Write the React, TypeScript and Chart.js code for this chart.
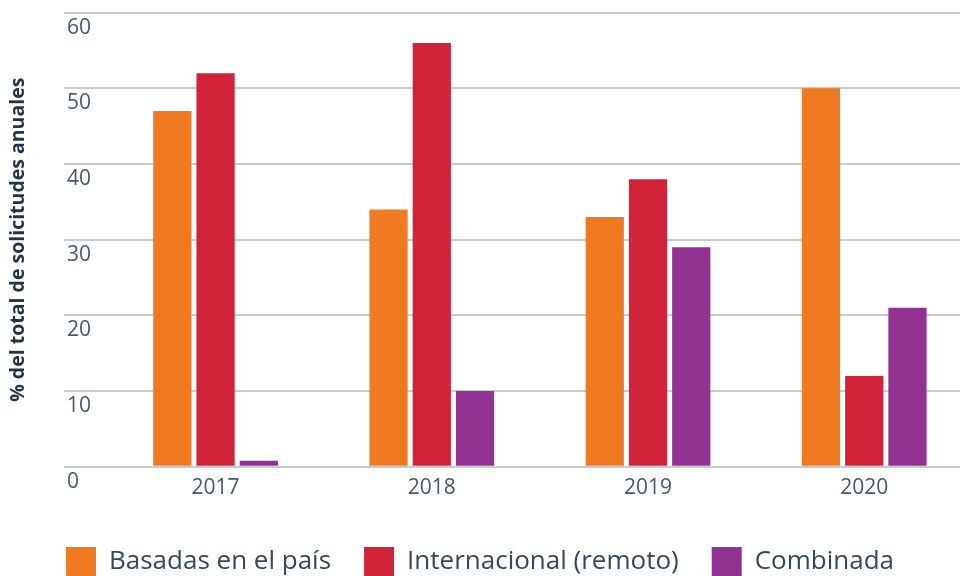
import React, { useEffect, useRef } from 'react';
import { Chart, registerables } from 'chart.js';

Chart.register(...registerables);

const years = [2017, 2018, 2019, 2020];
const basadas = [47, 34, 33, 50];
const internacional = [52, 56, 38, 12];
const combinada = [0.8, 10, 29, 21];
const yTicks = [0, 10, 20, 30, 40, 50, 60];
const seriesLabels = ['Basadas en el país', 'Internacional (remoto)', 'Combinada'];
const seriesColors = ['#F07A22', '#D0233A', '#923291'];
const yTitle = '% del total de solicitudes anuales';

const FONT = "'Open Sans', 'Noto Sans', sans-serif";

export default function App() {
  const ref = useRef<HTMLCanvasElement | null>(null);

  useEffect(() => {
    if (!ref.current) return;
    const seriesValues = [basadas, internacional, combinada];
    const chart = new Chart(ref.current, {
      type: 'bar',
      data: {
        datasets: seriesValues.map((vals, i) => ({
          label: seriesLabels[i],
          data: years.map((y, j) => ({ x: y, y: vals[j] })),
          backgroundColor: seriesColors[i],
          borderWidth: 0,
          categoryPercentage: 0.6,
          barPercentage: 0.884,
        })),
      },
      options: {
        responsive: false,
        animation: false,
        layout: { padding: { top: 12.7, left: 0, right: 0, bottom: 0 } },
        plugins: {
          legend: {
            position: 'bottom',
            labels: {
              boxWidth: 30,
              boxHeight: 30,
              padding: 33,
              color: '#34495a',
              font: { family: FONT, size: 26 },
            },
          },
          tooltip: { enabled: false },
        },
        scales: {
          x: {
            type: 'linear',
            offset: false,
            min: 2016.299,
            max: 2020.443,
            grid: { display: false, offset: false },
            border: { display: false },
            afterBuildTicks: (s: any) => {
              s.ticks = years.map((v) => ({ value: v }));
            },
            afterFit: (s: any) => {
              s.height = 47.3;
            },
            ticks: {
              callback: (v: any) => String(v),
              color: '#45596a',
              font: { family: FONT, size: 21 },
              padding: 1,
              maxRotation: 0,
            },
          },
          y: {
            min: 0,
            max: 60,
            afterBuildTicks: (s: any) => {
              s.ticks = yTicks.map((v) => ({ value: v }));
            },
            afterFit: (s: any) => {
              s.width = 64;
              s.paddingTop = 0;
              s.paddingBottom = 0;
            },
            grid: { color: '#c9c9ce', lineWidth: 2, drawTicks: false },
            border: { display: false },
            ticks: {
              mirror: true,
              padding: 3,
              labelOffset: 15,
              color: '#45596a',
              font: { family: FONT, size: 21 },
            },
            title: {
              display: true,
              text: yTitle,
              color: '#1f3545',
              font: { family: FONT, size: 19.5, weight: 'bold' },
              padding: { top: 7, bottom: 0 },
            },
          },
        },
      },
    } as any);
    return () => chart.destroy();
  }, []);

  return (
    <div style={{ position: 'fixed', left: 0, top: 0, width: 960, height: 576, overflow: 'hidden', background: '#fff' }}>
      <canvas ref={ref} width={960} height={587} style={{ display: 'block', width: 960, height: 587 }} />
    </div>
  );
}
